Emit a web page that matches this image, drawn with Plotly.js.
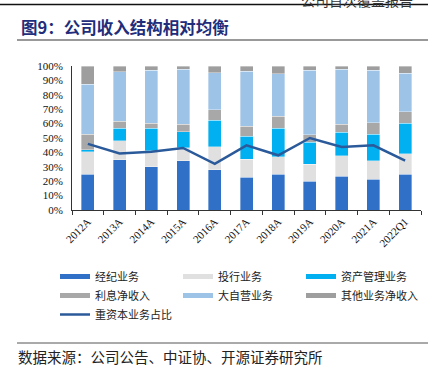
<!DOCTYPE html>
<html>
<head>
<meta charset="utf-8">
<script src="https://cdn.plot.ly/plotly-3.0.1.min.js"></script>
<style>html,body{margin:0;padding:0;background:#fff;}#chart{width:438px;height:376px;}</style>
</head>
<body>
<div id="chart"></div>
<script>
const categories = ["2012A","2013A","2014A","2015A","2016A","2017A","2018A","2019A","2020A","2021A","2022Q1"];
const brokerage   = [24.7, 34.8, 30.2, 34.3, 27.9, 22.8, 24.9, 19.8, 23.3, 21.4, 24.9];
const ibanking    = [15.6, 13.4, 11.0,  8.8, 16.1, 12.5, 12.0, 12.0, 14.5, 12.9, 14.3];
const assetMgmt   = [ 1.6,  8.5, 15.5, 11.3, 18.4, 15.9, 19.8, 15.2, 16.1, 18.2, 20.9];
const interest    = [10.6,  4.8,  3.4,  5.0,  7.2,  7.1,  8.3,  5.3,  5.5,  8.1,  8.1];
const proprietary = [34.8, 34.4, 37.1, 38.3, 25.6, 38.2, 29.5, 44.7, 38.5, 36.4, 26.7];
const otherNet    = [12.7,  4.1,  2.8,  2.3,  4.8,  3.5,  5.5,  3.0,  2.1,  3.0,  5.1];
const heavyCapital= [45.9, 39.2, 40.5, 43.1, 32.0, 44.9, 38.0, 50.0, 43.8, 44.9, 34.3];
const yTicks = [0,10,20,30,40,50,60,70,80,90,100];

const barSeries = [
  {name:"经纪业务", y:brokerage, color:"#3070C6"},
  {name:"投行业务", y:ibanking, color:"#E0E0E0"},
  {name:"资产管理业务", y:assetMgmt, color:"#00B0F0"},
  {name:"利息净收入", y:interest, color:"#A8A8A8"},
  {name:"大自营业务", y:proprietary, color:"#9DC3E6"},
  {name:"其他业务净收入", y:otherNet, color:"#9E9E9E"}
];
const lineColor = "#2B5A9B";

const traces = [];
barSeries.forEach(s => {
  traces.push({type:"bar", x:categories, y:s.y, name:s.name, showlegend:false,
    marker:{color:s.color, line:{color:"rgba(255,255,255,0.6)", width:0.6}}, hoverinfo:"skip"});
});
traces.push({type:"scatter", mode:"lines", x:categories, y:heavyCapital, name:"重资本业务占比",
  showlegend:false, line:{color:lineColor, width:2.5}});
// legend entries (wide swatches)
barSeries.forEach(s => {
  traces.push({type:"scatter", mode:"lines", x:[null], y:[null], name:s.name,
    line:{color:s.color, width:5}, showlegend:true});
});
traces.push({type:"scatter", mode:"lines", x:[null], y:[null], name:"重资本业务占比",
  line:{color:lineColor, width:2.5}, showlegend:true});

const L=72, R=421, T=66, B=210, W=R-L, H=B-T;
const px = v => (v-L)/W, py = v => (B-v)/H;
const cjk = "Noto Sans CJK SC, sans-serif";
const serif = "Liberation Serif, Times New Roman, serif";

const layout = {
  width:438, height:376,
  margin:{l:L, r:438-R, t:T, b:376-B, pad:0},
  paper_bgcolor:"#fff", plot_bgcolor:"#fff",
  barmode:"stack", bargap:0.59,
  showlegend:true,
  legend:{orientation:"h", x:px(55), y:py(262), xanchor:"left", yanchor:"top",
    entrywidth:78, entrywidthmode:"pixels", font:{family:cjk, size:11, color:"#222"},
    itemwidth:30, traceorder:"normal"},
  xaxis:{type:"category", tickangle:-45, tickfont:{family:serif, size:11, color:"#111"},
    showline:true, linecolor:"#333", linewidth:1, ticks:"outside", tickson:"boundaries",
    ticklen:4, tickcolor:"#333", showgrid:false, zeroline:false, fixedrange:true},
  yaxis:{range:[0,100], tickvals:yTicks, ticktext:yTicks.map(v=>v+"%"),
    tickfont:{family:serif, size:11, color:"#111"}, showline:true, linecolor:"#333", linewidth:1,
    ticks:"", ticklabelstandoff:6, showgrid:false, zeroline:false, fixedrange:true},
  shapes:[
    {type:"line", xref:"paper", yref:"paper", x0:px(0), x1:px(428), y0:py(4.5), y1:py(4.5), line:{color:"#111", width:1.5}},
    {type:"line", xref:"paper", yref:"paper", x0:px(17), x1:px(428), y0:py(40), y1:py(40), line:{color:"#999", width:2}},
    {type:"line", xref:"paper", yref:"paper", x0:px(17), x1:px(428), y0:py(343), y1:py(343), line:{color:"#555", width:1}}
  ],
  annotations:[
    {xref:"paper", yref:"paper", x:px(415), y:py(0), xanchor:"right", yanchor:"middle", showarrow:false,
      text:"公司首次覆盖报告", font:{family:cjk, size:14, color:"#333"}},
    {xref:"paper", yref:"paper", x:px(19), y:py(27), xanchor:"left", yanchor:"middle", showarrow:false,
      text:"<b>图9：公司收入结构相对均衡</b>", font:{family:cjk, size:16.5, color:"#1F2D7A"}},
    {xref:"paper", yref:"paper", x:px(16), y:py(357), xanchor:"left", yanchor:"middle", showarrow:false,
      text:"数据来源：公司公告、中证协、开源证券研究所", font:{family:cjk, size:14.5, color:"#222"}}
  ]
};
Plotly.newPlot("chart", traces, layout, {displayModeBar:false, staticPlot:true});
</script>
</body>
</html>
